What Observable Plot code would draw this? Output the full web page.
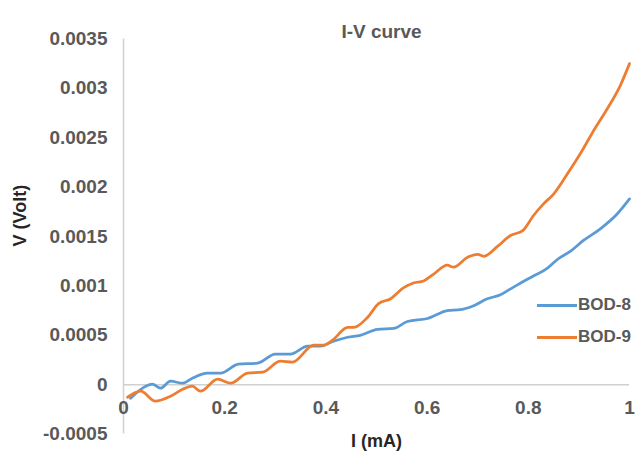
<!DOCTYPE html>
<html>
<head>
<meta charset="utf-8">
<script src="https://cdn.jsdelivr.net/npm/d3@7"></script>
<script src="https://cdn.jsdelivr.net/npm/@observablehq/plot@0.6"></script>
<style>
  html, body { margin: 0; padding: 0; background: #fff; }
  #wrap { position: relative; width: 635px; height: 456px; overflow: hidden; font-family: "Liberation Sans", Arial, sans-serif; }
  #legend { position: absolute; left: 537px; top: 289px; font-size: 17px; font-weight: bold; color: #595959; }
  #legend .item { display: flex; align-items: center; height: 32px; }
  #legend .sw { width: 40px; height: 3px; margin-right: 1px; }
</style>
</head>
<body>
<div id="wrap"></div>
<script>
const title = "I-V curve";
const xLabel = "I (mA)";
const yLabel = "V (Volt)";
const seriesNames = ["BOD-8", "BOD-9"];
const seriesColors = ["#5B9BD5", "#ED7D31"];

const xTicks = [0, 0.2, 0.4, 0.6, 0.8, 1];
const xTickLabels = ["0", "0.2", "0.4", "0.6", "0.8", "1"];
const yTicks = [-0.0005, 0, 0.0005, 0.001, 0.0015, 0.002, 0.0025, 0.003, 0.0035];
const yTickLabels = ["-0.0005", "0", "0.0005", "0.001", "0.0015", "0.002", "0.0025", "0.003", "0.0035"];

const I_BOD8 = [0.014, 0.044, 0.057, 0.073, 0.093, 0.117, 0.136, 0.166, 0.192, 0.227, 0.265, 0.300, 0.330, 0.364, 0.389, 0.415, 0.443, 0.468, 0.502, 0.534, 0.561, 0.601, 0.640, 0.666, 0.692, 0.719, 0.745, 0.765, 0.785, 0.810, 0.838, 0.858, 0.883, 0.909, 0.943, 0.976, 1.0];
const V_BOD8 = [-0.000137, -0.000015, 0.000005, -0.000035, 0.000035, 0.000015, 0.000066, 0.000117, 0.000117, 0.000208, 0.000218, 0.000309, 0.000309, 0.00039, 0.00039, 0.00044, 0.00048, 0.0005, 0.00056, 0.00057, 0.00064, 0.00067, 0.00075, 0.00076, 0.0008, 0.00087, 0.00091, 0.00097, 0.00103, 0.0011, 0.00118, 0.00127, 0.00135, 0.00146, 0.00158, 0.00173, 0.00188];

const I_BOD9 = [0.008, 0.034, 0.063, 0.093, 0.117, 0.136, 0.152, 0.186, 0.212, 0.245, 0.275, 0.310, 0.334, 0.376, 0.395, 0.413, 0.443, 0.455, 0.482, 0.504, 0.528, 0.553, 0.573, 0.593, 0.613, 0.640, 0.652, 0.680, 0.700, 0.712, 0.739, 0.765, 0.789, 0.810, 0.830, 0.850, 0.878, 0.903, 0.929, 0.957, 0.982, 1.0];
const V_BOD9 = [-0.000127, -0.000066, -0.000167, -0.000117, -0.000046, -0.000015, -0.000066, 0.000056, 0.000015, 0.000117, 0.000127, 0.000238, 0.000228, 0.0004, 0.0004, 0.00045, 0.00058, 0.00058, 0.00068, 0.00082, 0.00087, 0.00098, 0.00103, 0.00105, 0.00112, 0.00121, 0.00119, 0.00129, 0.00132, 0.0013, 0.0014, 0.00151, 0.00156, 0.00171, 0.00183, 0.00193, 0.00214, 0.00234, 0.00257, 0.0028, 0.00303, 0.00325];

const rows = [];
I_BOD8.forEach((x, i) => rows.push({series: seriesNames[0], I: x, V: V_BOD8[i]}));
I_BOD9.forEach((x, i) => rows.push({series: seriesNames[1], I: x, V: V_BOD9[i]}));

const font = "'Liberation Sans', Arial, sans-serif";
const chart = Plot.plot({
  width: 635,
  height: 456,
  marginLeft: 123,
  marginRight: 6,
  marginTop: 38.4,
  marginBottom: 22.4,
  style: {fontFamily: font, background: "#fff", overflow: "visible"},
  x: {domain: [0, 1], axis: null},
  y: {domain: [-0.0005, 0.0035], axis: null},
  color: {domain: seriesNames, range: seriesColors},
  marks: [
    Plot.ruleX([0], {stroke: "#d0d0d0", strokeWidth: 1.5}),
    Plot.ruleY([0], {stroke: "#d0d0d0", strokeWidth: 1.5}),
    Plot.line(rows, {x: "I", y: "V", z: "series", stroke: "series", strokeWidth: 2.75, curve: "monotone-x"}),
    Plot.text(yTicks, {x: 0, y: d => d, text: (d, i) => yTickLabels[i], dx: -16, textAnchor: "end", fontSize: 19, fontWeight: "bold", fill: "#595959"}),
    Plot.text(xTicks, {x: d => d, y: 0, text: (d, i) => xTickLabels[i], dy: 23, fontSize: 19, fontWeight: "bold", fill: "#595959"}),
    Plot.text([title], {frameAnchor: "top", dx: 5, dy: -14, fontSize: 19, fontWeight: "bold", fill: "#595959"}),
    Plot.text([xLabel], {frameAnchor: "bottom", dy: 12.5, fontSize: 18, fontWeight: "bold", fill: "#262626"}),
    Plot.text([yLabel], {frameAnchor: "left", dx: -103, dy: 10, rotate: -90, fontSize: 18, fontWeight: "bold", fill: "#262626"})
  ]
});
const wrap = document.getElementById("wrap");
wrap.appendChild(chart);

const legend = document.createElement("div");
legend.id = "legend";
seriesNames.forEach((name, i) => {
  const item = document.createElement("div");
  item.className = "item";
  const sw = document.createElement("span");
  sw.className = "sw";
  sw.style.background = seriesColors[i];
  const label = document.createElement("span");
  label.textContent = name;
  item.appendChild(sw);
  item.appendChild(label);
  legend.appendChild(item);
});
wrap.appendChild(legend);
</script>
</body>
</html>
